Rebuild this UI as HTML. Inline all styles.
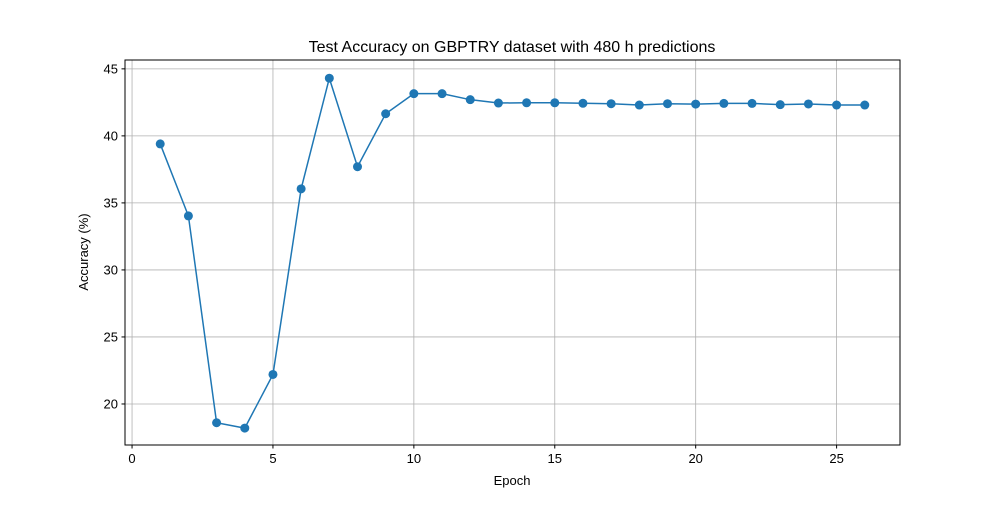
<!DOCTYPE html>
<html><head><meta charset="utf-8"><style>
body{margin:0;background:#fff;font-family:"Liberation Sans","DejaVu Sans",sans-serif}
</style></head><body>
<svg id="chart" width="1000" height="500" xmlns="http://www.w3.org/2000/svg">
<rect width="1000" height="500" fill="#fff"/>
<g id="grid"></g>
<g id="axes"></g>
<g id="series"></g>
<rect x="125" y="60" width="775" height="385" fill="none" stroke="#000" stroke-width="1"/>
<text x="512" y="52" text-anchor="middle" font-size="16">Test Accuracy on GBPTRY dataset with 480 h predictions</text>
<text x="512" y="485" text-anchor="middle" font-size="13">Epoch</text>
<text x="88" y="252" text-anchor="middle" font-size="13" transform="rotate(-90 88 252)">Accuracy (%)</text>
</svg>
<script>
const epochs=[1,2,3,4,5,6,7,8,9,10,11,12,13,14,15,16,17,18,19,20,21,22,23,24,25,26];
const accuracy=[39.4,34.03,18.6,18.2,22.2,36.05,44.3,37.7,41.65,43.15,43.15,42.7,42.45,42.47,42.47,42.43,42.4,42.3,42.4,42.37,42.42,42.42,42.33,42.38,42.3,42.3];
const xTicks=[0,5,10,15,20,25];
const yTicks=[20,25,30,35,40,45];
const NS="http://www.w3.org/2000/svg";
const L=125,R=900,T=60,B=445;
const xmin=-0.25,xmax=27.25,ymin=16.94,ymax=45.66;
const X=v=>L+(v-xmin)/(xmax-xmin)*(R-L);
const Y=v=>B-(v-ymin)/(ymax-ymin)*(B-T);
function mk(tag,attrs,parent){const e=document.createElementNS(NS,tag);for(const k in attrs)e.setAttribute(k,attrs[k]);parent.appendChild(e);return e;}
const grid=document.getElementById('grid'),axes=document.getElementById('axes'),series=document.getElementById('series');
xTicks.forEach(t=>{const x=X(t);
 const g=mk('line',{x1:x,x2:x,y1:T,y2:B,stroke:'#b0b0b0','stroke-width':0.8},grid);
 
 
 mk('line',{x1:x,x2:x,y1:B,y2:B+3.5,stroke:'#000'},axes);
 const tx=mk('text',{x:x,y:B+18,'text-anchor':'middle','font-size':13},axes);tx.textContent=t;
 
 
});
yTicks.forEach(t=>{const y=Y(t);
 const g=mk('line',{x1:L,x2:R,y1:y,y2:y,stroke:'#b0b0b0','stroke-width':0.8},grid);
 
 
 mk('line',{x1:L-3.5,x2:L,y1:y,y2:y,stroke:'#000'},axes);
 const tx=mk('text',{x:L-7,y:y+4.5,'text-anchor':'end','font-size':13},axes);tx.textContent=t;
 
 
});
const pl=mk('polyline',{points:epochs.map((e,i)=>X(e)+','+Y(accuracy[i])).join(' '),fill:'none',stroke:'#1f77b4','stroke-width':1.5},series);


epochs.forEach((e,i)=>{const c=mk('circle',{cx:X(e),cy:Y(accuracy[i]),r:4.5,fill:'#1f77b4'},series);
 
 
});
</script>
</body></html>
